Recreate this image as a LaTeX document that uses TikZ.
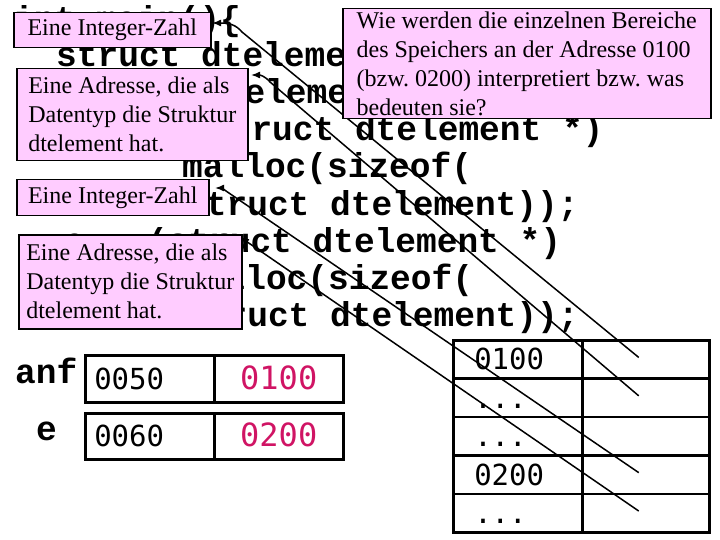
\documentclass[tikz,border=0pt]{standalone}
\usepackage{fontspec}
\setmainfont{Liberation Serif}
\newfontfamily\codefont{Liberation Mono}
\newfontfamily\cellfont{DejaVu Sans Mono}
\usetikzlibrary{arrows,arrows.meta,calc}
\definecolor{notepink}{RGB}{255,204,255}
\definecolor{valred}{RGB}{208,20,100}
\tikzset{
	code/.style={anchor=base west, inner sep=0pt, font=\codefont\bfseries\fontsize{34.5}{37}\selectfont},
	note/.style={draw, line width=1.5pt, fill=notepink, anchor=north west, align=left, inner ysep=0pt, font=\frenchspacing\fontsize{24}{29}\selectfont},
	cell/.style={draw, line width=2.5pt, anchor=north west, inner xsep=9pt, inner ysep=0pt, text width=111pt, text height=21pt, text depth=0pt, align=left, font=\cellfont\fontsize{29}{30}\selectfont},
	memcell/.style={cell, inner xsep=21pt, text width=87pt, minimum height=38.4pt},
	conn/.style={line width=1.5pt, -{Latex[length=9pt,width=7pt]}}
}

\begin{document}
\begin{tikzpicture}[x=1pt,y=-1pt]
	\useasboundingbox (0,0) rectangle (720,540);

	% Programmtext
	\node[code] (code1) at (13,31) {int main()\{};
	\node[code] (code2) at (56,67) {struct dtelement *anf;};
	\node[code] (code3) at (58,104) {struct dtelement *e;};
	\node[code] (code4) at (65,141) {anf = (struct dtelement *)};
	\node[code] (code5) at (182,178) {malloc(sizeof(};
	\node[code] (code6) at (185,215) {struct dtelement));};
	\node[code] (code7) at (64,252) {e = (struct dtelement *)};
	\node[code] (code8) at (183,289) {malloc(sizeof(};
	\node[code] (code9) at (185,326) {struct dtelement));};

	% Zeigervariablen
	\node[code] (lblanf) at (15,383) {anf};
	\node[code] (lble) at (36,440) {e};
	\node[cell, minimum height=47pt] (anfadr) at (84,354) {0050};
	\node[cell, minimum height=47pt, align=center, text=valred, font=\cellfont\fontsize{32}{33}\selectfont] (anfval) at (213,354) {0100};
	\node[cell, minimum height=46pt] (eadr) at (84,412) {0060};
	\node[cell, minimum height=46pt, align=center, text=valred, font=\cellfont\fontsize{32}{33}\selectfont] (eval) at (213,412) {0200};

	% Speicher
	\node[memcell] (mem1a) at (452,339) {0100};
	\node[memcell, text width=85pt] (mem1b) at (581,339) {};
	\node[memcell] (mem2a) at (452,377.4) {...};
	\node[memcell, text width=85pt] (mem2b) at (581,377.4) {};
	\node[memcell] (mem3a) at (452,415.8) {...};
	\node[memcell, text width=85pt] (mem3b) at (581,415.8) {};
	\node[memcell] (mem4a) at (452,454.2) {0200};
	\node[memcell, text width=85pt] (mem4b) at (581,454.2) {};
	\node[memcell] (mem5a) at (452,492.6) {...};
	\node[memcell, text width=85pt] (mem5b) at (581,492.6) {};

	% Pfeile
	\coordinate (tip1) at (212,23);
	\coordinate (tip2) at (251,75);
	\coordinate (tip3) at (215,188);
	\coordinate (tip4) at (240,237);
	\draw[conn] ([shift={(-7,-2)}]mem1b.center) -- (242,32) .. controls (236,25) and (230,23) .. (tip1);
	\draw[conn] ([shift={(-7,-2)}]mem2b.center) -- (270,82) .. controls (265,76) and (260,75) .. (tip2);
	\draw[conn] ([shift={(-7,-2)}]mem4b.center) -- (226,191) .. controls (222,188) .. (tip3);
	\draw[conn] ([shift={(-7,-2)}]mem5b.center) -- (tip4);

	% Erklaerungen
	\node[note, minimum width=197pt, minimum height=35pt] (int1) at (13,12) {Eine Integer-Zahl};
	\node[note, minimum width=231pt, minimum height=92pt] (adr1) at (16,68) {Eine Adresse, die als\\Datentyp die Struktur\\dtelement hat.};
	\node[note, minimum width=368pt, minimum height=110pt] (frage) at (342,8) {Wie werden die einzelnen Bereiche\\des Speichers an der Adresse 0100\\(bzw. 0200) interpretiert bzw. was\\bedeuten sie?};
	\node[note, minimum width=192pt, minimum height=36pt] (int2) at (16,179) {Eine Integer-Zahl};
	\node[note, minimum width=223pt, minimum height=94pt] (adr2) at (18,234) {Eine Adresse, die als\\Datentyp die Struktur\\dtelement hat.};
\end{tikzpicture}
\end{document}
